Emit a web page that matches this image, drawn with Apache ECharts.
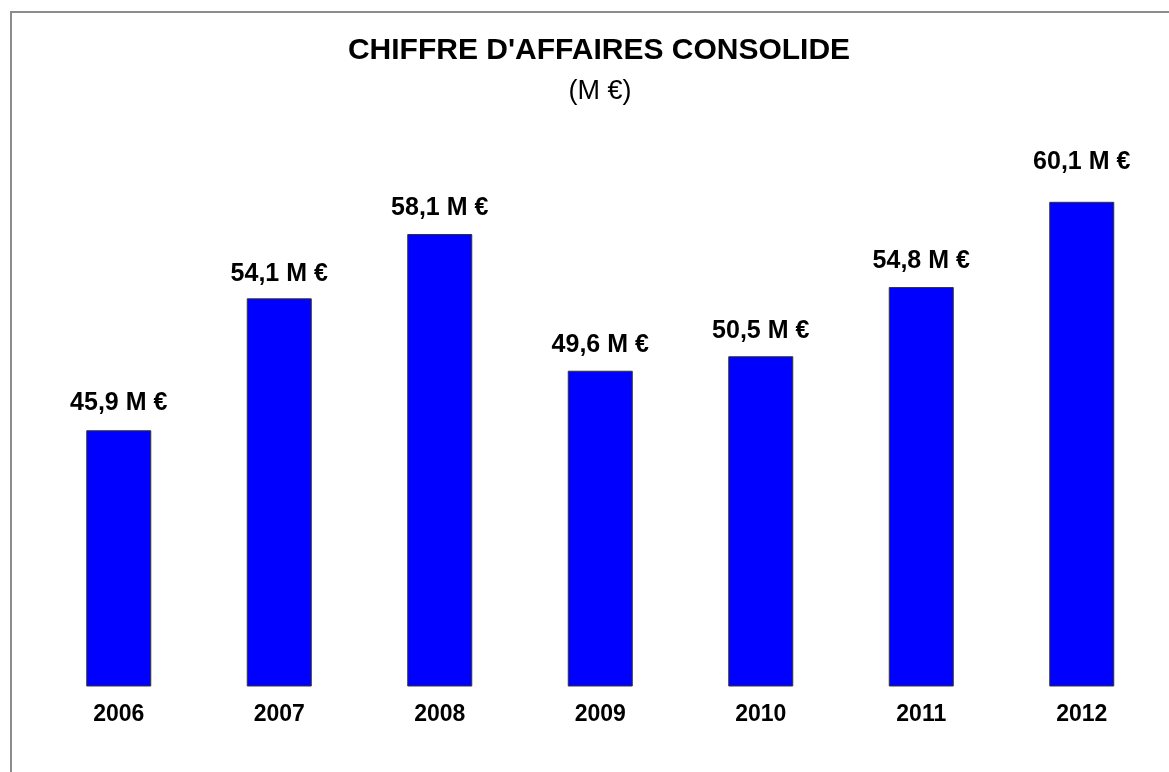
<!DOCTYPE html>
<html>
<head>
<meta charset="utf-8">
<script src="https://cdn.jsdelivr.net/npm/echarts@6/dist/echarts.min.js"></script>
<style>html,body{margin:0;padding:0;background:#fff}#c{width:1169px;height:772px}</style>
</head>
<body>
<div id="c"></div>
<script>
const years = ['2006', '2007', '2008', '2009', '2010', '2011', '2012'];
const revenue = [45.9, 54.1, 58.1, 49.6, 50.5, 54.8, 60.1];
const titleText = "CHIFFRE D'AFFAIRES CONSOLIDE";
const subtitleText = '(M €)';
const unitSuffix = ' M €';

const chart = echarts.init(document.getElementById('c'), null, { renderer: 'canvas' });
const fmt = v => v.toFixed(1).replace('.', ',') + unitSuffix;
// label distances (styling only): last label sits higher in the original
const labelDist = [15, 12, 13, 13, 13, 13, 27];
const seriesData = revenue.map((v, i) => ({ value: v, label: { distance: labelDist[i] } }));

chart.setOption({
  backgroundColor: '#ffffff',
  animation: false,
  textStyle: { fontFamily: 'Liberation Sans, Arial, sans-serif' },
  title: [
    { text: titleText, left: 594, textAlign: 'center', top: 31,
      textStyle: { fontSize: 30, fontWeight: 'bold', color: '#000', fontFamily: 'Liberation Sans, Arial, sans-serif' } },
    { text: subtitleText, left: 595, textAlign: 'center', top: 73,
      textStyle: { fontSize: 27, fontWeight: 'normal', color: '#000', fontFamily: 'Liberation Sans, Arial, sans-serif' } }
  ],
  graphic: [
    { type: 'rect', silent: true, z: -1,
      shape: { x: 11, y: 12, width: 2000, height: 2000 },
      style: { fill: 'none', stroke: '#8c8c8c', lineWidth: 2 } }
  ],
  grid: { left: 38.5, right: 7, top: 123, bottom: 86, containLabel: false },
  xAxis: {
    type: 'category',
    data: years,
    axisLine: { show: false },
    axisTick: { show: false },
    axisLabel: { margin: 17, fontSize: 23, fontWeight: 'bold', color: '#000', lineHeight: 24 }
  },
  yAxis: {
    type: 'value', min: 30, max: 65, show: false,
    splitLine: { show: false }
  },
  series: [{
    type: 'bar',
    data: seriesData,
    barWidth: 65,
    itemStyle: { color: '#0000ff', borderColor: '#333333', borderWidth: 1 },
    label: {
      show: true, position: 'top',
      formatter: p => fmt(p.value),
      fontSize: 25, fontWeight: 'bold', color: '#000', lineHeight: 25
    }
  }]
});
</script>
</body>
</html>
